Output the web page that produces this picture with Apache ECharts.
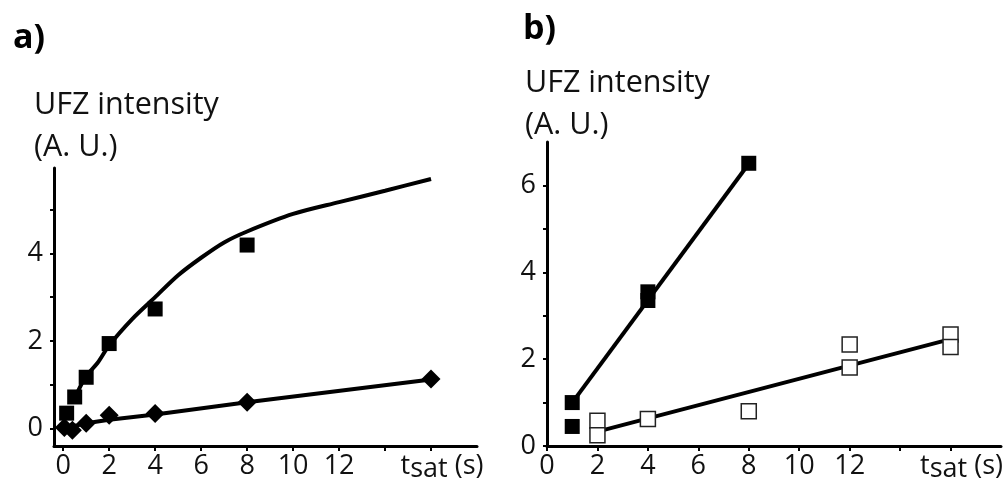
<!DOCTYPE html>
<html>
<head>
<meta charset="utf-8">
<script src="https://cdn.jsdelivr.net/npm/echarts@6/dist/echarts.min.js"></script>
<style>
  html, body { margin: 0; padding: 0; background: #fff; }
  #chart { width: 1006px; height: 489px; }
</style>
</head>
<body>
<div id="chart"></div>
<script>
  // panel a) - filled squares and diamonds
  const aSquareX = [0.15, 0.5, 1, 2, 4, 8, 16];
  const aSquareY = [0.35, 0.72, 1.17, 1.94, 2.73, 4.19, 5.97];
  const aDiamondX = [0.05, 0.4, 1, 2, 4, 8, 16];
  const aDiamondY = [0.02, -0.04, 0.12, 0.3, 0.34, 0.6, 1.13];
  // fitted curves
  const aFitSquareX = [0.6, 1, 1.5, 2, 3, 4, 5, 6, 7, 8, 10, 12, 14, 16];
  const aFitSquareY = [0.8, 1.2, 1.5, 1.9, 2.5, 3.0, 3.5, 3.9, 4.25, 4.5, 4.9, 5.17, 5.43, 5.7];
  const aFitDiamondX = [0, 1, 2, 4, 8, 16];
  const aFitDiamondY = [0, 0.12, 0.2, 0.32, 0.6, 1.12];

  // panel b) - filled and open squares
  const bFilledX = [1, 1, 4, 4, 8];
  const bFilledY = [1.0, 0.45, 3.35, 3.55, 6.51];
  const bOpenX = [2, 2, 4, 8, 12, 12, 16, 16];
  const bOpenY = [0.58, 0.25, 0.62, 0.8, 2.34, 1.81, 2.57, 2.28];
  const bFitFilledX = [1, 8];
  const bFitFilledY = [1.0, 6.5];
  const bFitOpenX = [2, 16];
  const bFitOpenY = [0.33, 2.46];

  // ticks
  const xTicks = [0, 2, 4, 6, 8, 10, 12, 14, 16];
  const xLabels = [0, 2, 4, 6, 8, 10, 12, 16];
  const aYTicks = [0, 1, 2, 3, 4, 5];
  const aYLabels = [0, 2, 4];
  const bYTicks = [0, 1, 2, 3, 4, 5, 6];
  const bYLabels = [0, 2, 4, 6];

  const FONT = 'Open Sans';

  function pairs(xs, ys) {
    return xs.map((x, i) => [x, ys[i]])
  }

  function xAxis(gridIndex, min) {
    return {
      type: 'value', gridIndex: gridIndex, min: min, max: 18,
      axisLine: { onZero: false, lineStyle: { color: '#000', width: 3 } },
      axisTick: { show: true, length: 5, customValues: xTicks, lineStyle: { color: '#000', width: 2 } },
      splitLine: { show: false },
      axisLabel: {
        customValues: xLabels, margin: 7, color: '#111', fontFamily: FONT, fontSize: 27,
        formatter: v => v === 16 ? '{a|t}{s|sat}{t| (s)}' : String(v),
        rich: {
          a: { fontFamily: FONT, fontSize: 27, color: '#111', padding: [0, 0, 3, 22] },
          t: { fontFamily: FONT, fontSize: 27, color: '#111', padding: [0, 0, 3, 0] },
          s: { fontFamily: FONT, fontSize: 27, color: '#111', padding: [3, 0, 0, 0] }
        }
      }
    }
  }

  function yAxis(gridIndex, min, max, ticks, labels) {
    return {
      type: 'value', gridIndex: gridIndex, min: min, max: max,
      axisLine: { show: true, onZero: false, lineStyle: { color: '#000', width: 3 } },
      axisTick: { show: true, length: 4, customValues: ticks, lineStyle: { color: '#000', width: 2 } },
      splitLine: { show: false },
      axisLabel: { customValues: labels, margin: 11, color: '#111', fontFamily: FONT, fontSize: 27 }
    }
  }

  function fitLine(x, y, xs, ys, smooth) {
    return {
      type: 'line', xAxisIndex: x, yAxisIndex: y, data: pairs(xs, ys),
      showSymbol: false, smooth: smooth, silent: true,
      lineStyle: { color: '#000', width: 4 }
    }
  }

  function marks(x, y, xs, ys, symbol, size, item) {
    return {
      type: 'scatter', xAxisIndex: x, yAxisIndex: y, data: pairs(xs, ys),
      symbol: symbol, symbolSize: size, itemStyle: Object.assign({ opacity: 1 }, item), z: 5
    }
  }

  const chart = echarts.init(document.getElementById('chart'))
  const option = {
    animation: false,
    backgroundColor: '#fff',
    title: [
      { text: 'a)', left: 8, top: 16, textStyle: { fontFamily: FONT, fontSize: 34, fontWeight: 'bold', color: '#000' } },
      { text: 'b)', left: 518, top: 7, textStyle: { fontFamily: FONT, fontSize: 34, fontWeight: 'bold', color: '#000' } },
      { text: 'UFZ intensity\n(A. U.)', left: 29, top: 79, textStyle: { fontFamily: FONT, fontSize: 30.5, fontWeight: 'normal', color: '#111', lineHeight: 42 } },
      { text: 'UFZ intensity\n(A. U.)', left: 520, top: 57, textStyle: { fontFamily: FONT, fontSize: 30.5, fontWeight: 'normal', color: '#111', lineHeight: 42 } }
    ],
    grid: [
      { left: 54, top: 168, width: 423, height: 278 },
      { left: 547, top: 142, width: 455, height: 304 }
    ],
    xAxis: [xAxis(0, -0.4), xAxis(1, 0)],
    yAxis: [yAxis(0, -0.4, 5.95, aYTicks, aYLabels), yAxis(1, 0, 7, bYTicks, bYLabels)],
    series: [
      fitLine(0, 0, aFitSquareX, aFitSquareY, 0.3),
      fitLine(0, 0, aFitDiamondX, aFitDiamondY, false),
      marks(0, 0, aSquareX, aSquareY, 'rect', 15, { color: '#000' }),
      marks(0, 0, aDiamondX, aDiamondY, 'diamond', 19, { color: '#000' }),
      fitLine(1, 1, bFitFilledX, bFitFilledY, false),
      fitLine(1, 1, bFitOpenX, bFitOpenY, false),
      marks(1, 1, bFilledX, bFilledY, 'rect', 15, { color: '#000' }),
      marks(1, 1, bOpenX, bOpenY, 'rect', 15, { color: '#fff', borderColor: '#222', borderWidth: 1.5 })
    ]
  };
  chart.setOption(option)
</script>
</body>
</html>
